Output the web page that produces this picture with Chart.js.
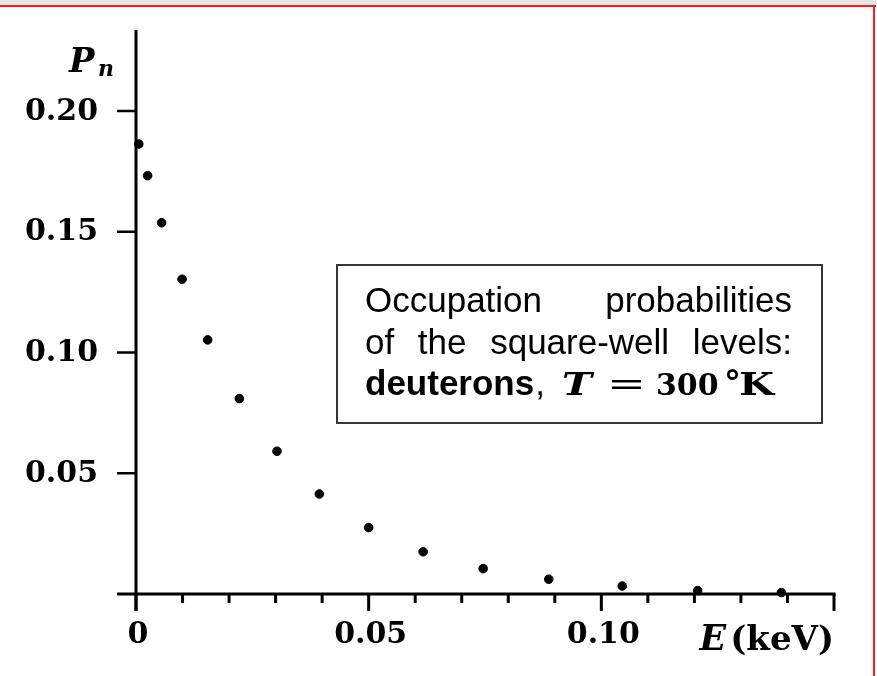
<!DOCTYPE html>
<html lang="en">
<head>
    <meta charset="UTF-8">
    <title>Occupation probabilities</title>
    <script src="https://cdn.jsdelivr.net/npm/chart.js"></script>
    <style>
        body { margin: 0; background: #fff; }
        #wrap { width: 877px; height: 676px; }
    </style>
</head>
<body>
    <div id="wrap"><canvas id="chart" width="877" height="676"></canvas></div>
    <script>
        // level energies (keV) and occupation probabilities
        const energies = [0.0006, 0.0025, 0.0055, 0.0099, 0.0154, 0.0222, 0.0303, 0.0394, 0.0500, 0.0617, 0.0746, 0.0887, 0.1045, 0.1207, 0.1387];
        const probs = [0.1863, 0.1732, 0.1537, 0.1303, 0.1052, 0.0809, 0.0591, 0.0414, 0.0275, 0.0175, 0.0105, 0.0061, 0.0033, 0.0014, 0.0006];

        const yTicks = [0.05, 0.10, 0.15, 0.20];
        const yTickLabels = ['0.05', '0.10', '0.15', '0.20'];
        const xMajorTicks = [0, 0.05, 0.10, 0.15];
        const xTickLabels = ['0', '0.05', '0.10'];
        const xMinorTicks = [0.01, 0.02, 0.03, 0.04, 0.06, 0.07, 0.08, 0.09, 0.11, 0.12, 0.13, 0.14];

        const boxLine1 = ['Occupation', 'probabilities'];
        const boxLine2 = ['of', 'the', 'square-well', 'levels:'];

        const SERIF = "'DejaVu Serif', serif";
        const SANS = "'Liberation Sans', Arial, sans-serif";

        function justify(ctx, words, left, right, y) {
            const widths = words.map(w => ctx.measureText(w).width);
            const total = widths.reduce((a, b) => a + b, 0);
            const gap = (right - left - total) / (words.length - 1);
            let x = left;
            words.forEach((w, i) => {
                ctx.fillText(w, x, y);
                x += widths[i] + gap;
            });
        }

        // draw text stretched horizontally (for the wide TeX glyphs)
        function wideText(ctx, text, x, y, sx) {
            ctx.save();
            ctx.translate(x, y);
            ctx.scale(sx, 1);
            ctx.fillText(text, 0, 0);
            ctx.restore();
        }

        const decorations = {
            id: 'decorations',
            beforeDraw(chart) {
                const ctx = chart.ctx;
                ctx.save();
                // window strip and red frame
                ctx.fillStyle = '#e6e6e6';
                ctx.fillRect(0, 0, 877, 5);
                ctx.fillStyle = '#ff1a1a';
                ctx.fillRect(0, 5, 876, 2);
                ctx.fillRect(873, 5, 2, 671);
                ctx.restore();
            },
            beforeDatasetsDraw(chart) {
                const ctx = chart.ctx;
                const xs = chart.scales.x, ys = chart.scales.y;
                const x0 = xs.getPixelForValue(0), y0 = ys.getPixelForValue(0);
                const xEnd = xs.getPixelForValue(0.15);
                ctx.save();
                ctx.strokeStyle = '#000';
                ctx.lineCap = 'butt';

                // axes
                ctx.lineWidth = 3;
                ctx.beginPath();
                ctx.moveTo(x0, chart.chartArea.top);
                ctx.lineTo(x0, y0 + 17);
                ctx.moveTo(x0 - 19, y0);
                ctx.lineTo(xEnd + 1.5, y0);
                ctx.stroke();

                // y ticks
                ctx.lineWidth = 2.5;
                ctx.beginPath();
                yTicks.forEach(v => {
                    const y = ys.getPixelForValue(v);
                    ctx.moveTo(x0 - 19, y);
                    ctx.lineTo(x0, y);
                });
                ctx.stroke();

                // x ticks
                ctx.lineWidth = 3;
                ctx.beginPath();
                xMajorTicks.forEach(v => {
                    const x = xs.getPixelForValue(v);
                    ctx.moveTo(x, y0);
                    ctx.lineTo(x, y0 + 17);
                });
                xMinorTicks.forEach(v => {
                    const x = xs.getPixelForValue(v);
                    ctx.moveTo(x, y0);
                    ctx.lineTo(x, y0 + 9);
                });
                ctx.stroke();

                // tick labels
                ctx.fillStyle = '#000';
                ctx.font = 'bold 30px ' + SERIF;
                ctx.textAlign = 'right';
                ctx.textBaseline = 'middle';
                yTicks.forEach((v, i) => {
                    ctx.fillText(yTickLabels[i], 98, ys.getPixelForValue(v) + 1);
                });
                ctx.textAlign = 'center';
                ctx.textBaseline = 'alphabetic';
                xTickLabels.forEach((t, i) => {
                    ctx.fillText(t, xs.getPixelForValue(xMajorTicks[i]) + 2, 643);
                });

                // axis titles
                ctx.textAlign = 'left';
                ctx.font = 'italic bold 34px ' + SERIF;
                ctx.fillText('P', 69, 72);
                ctx.font = 'italic bold 22px ' + SERIF;
                ctx.fillText('n', 98, 76);

                ctx.textAlign = 'right';
                ctx.font = 'bold 34px ' + SERIF;
                const unit = '(keV)';
                const uw = ctx.measureText(unit).width;
                ctx.fillText(unit, 834, 650);
                ctx.font = 'italic bold 35px ' + SERIF;
                ctx.fillText('E', 834 - uw - 4, 650);

                // annotation box
                ctx.lineWidth = 1.8;
                ctx.strokeStyle = '#222';
                ctx.strokeRect(337, 265, 485, 158);
                ctx.textAlign = 'left';
                ctx.font = '35px ' + SANS;
                justify(ctx, boxLine1, 365, 792, 312);
                justify(ctx, boxLine2, 365, 792, 354);

                ctx.font = 'bold 35px ' + SANS;
                ctx.fillText('deuterons', 365, 395);
                const dw = ctx.measureText('deuterons').width;
                ctx.font = '35px ' + SANS;
                ctx.fillText(',', 365 + dw + 1, 395);
                ctx.font = 'italic bold 31px ' + SERIF;
                wideText(ctx, 'T', 562, 395, 1.3);
                ctx.font = '32px ' + SERIF;
                wideText(ctx, '=', 607, 395, 1.45);
                ctx.font = 'bold 30px ' + SERIF;
                ctx.fillText('300', 656, 395);
                ctx.font = 'bold 34px ' + "'DejaVu Sans', sans-serif";
                ctx.fillText('°', 724, 394);
                ctx.font = 'bold 31px ' + SERIF;
                wideText(ctx, 'K', 739, 395, 1.3);
                ctx.restore();
            }
        };

        new Chart(document.getElementById('chart'), {
            type: 'scatter',
            data: {
                datasets: [{
                    data: energies.map((e, i) => ({ x: e, y: probs[i] })),
                    backgroundColor: '#000',
                    borderColor: '#000',
                    pointRadius: 4.3,
                    pointHoverRadius: 4.3,
                    clip: false
                }]
            },
            options: {
                responsive: false,
                animation: false,
                layout: { padding: { left: 136, right: 43, top: 30, bottom: 82 } },
                plugins: { legend: { display: false }, tooltip: { enabled: false } },
                scales: {
                    x: { type: 'linear', min: 0, max: 0.15, display: false },
                    y: { type: 'linear', min: 0, max: 0.2335, display: false }
                }
            },
            plugins: [decorations]
        });
    </script>
</body>
</html>
